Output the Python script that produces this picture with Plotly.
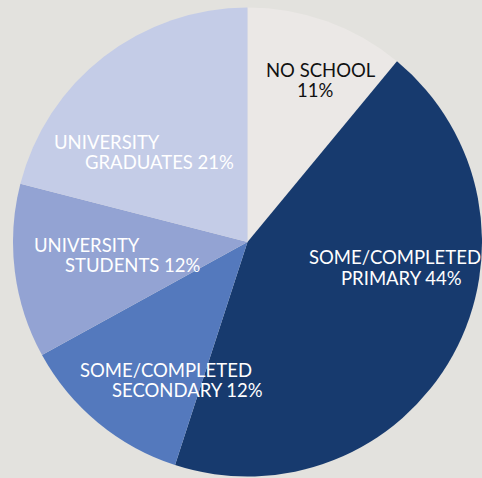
import plotly.graph_objects as go

# ---- data ----
label_top = ["NO SCHOOL", "SOME/COMPLETED", "SOME/COMPLETED", "UNIVERSITY", "UNIVERSITY"]
label_bottom = ["", "PRIMARY", "SECONDARY", "STUDENTS", "GRADUATES"]
values = [11, 44, 12, 12, 21]
colors = ["#ebe8e6", "#173a6e", "#5479bd", "#93a3d3", "#c4cce7"]
text_colors = ["#111111", "#ffffff", "#ffffff", "#ffffff", "#ffffff"]

categories = [(a + " " + b).strip() for a, b in zip(label_top, label_bottom)]

W, H = 482, 478
BG = "#e3e2de"

fig = go.Figure(go.Pie(
    labels=categories,
    values=values,
    sort=False,
    direction="clockwise",
    rotation=0,
    marker=dict(colors=colors, line=dict(width=0)),
    textinfo="none",
    hoverinfo="label+percent",
    showlegend=False,
    domain=dict(x=[13 / W, 1.0], y=[0.0, 1 - 6 / H]),
))

# label layout: (x_left of line1, y_center line1, x_left line2, y_center line2) in pixels
label_pos = [
    (264, 70, 295, 90),
    (307, 257, 339, 278),
    (78, 370, 110, 390),
    (32, 245, 63, 265),
    (52, 142, 83, 162),
]

font_family = "Lato, 'Open Sans', sans-serif"
fsize = 18.5
annotations = []
for i, (x1, y1, x2, y2) in enumerate(label_pos):
    line2 = (label_bottom[i] + " " + str(values[i]) + "%").strip()
    for txt, x, y in ((label_top[i], x1, y1), (line2, x2, y2)):
        annotations.append(dict(
            text=txt, x=x / W, y=1 - y / H, xref="paper", yref="paper",
            xanchor="left", yanchor="middle", showarrow=False,
            font=dict(family=font_family, size=fsize, color=text_colors[i]),
        ))

fig.update_layout(
    width=W, height=H,
    margin=dict(l=0, r=0, t=0, b=0),
    paper_bgcolor=BG,
    plot_bgcolor=BG,
    annotations=annotations,
)

fig.write_html(
    "out.html",
    config={"displayModeBar": False},
    post_script="document.body.style.margin='0';document.body.style.overflow='hidden';"
                "document.body.style.background='" + BG + "';",
)
